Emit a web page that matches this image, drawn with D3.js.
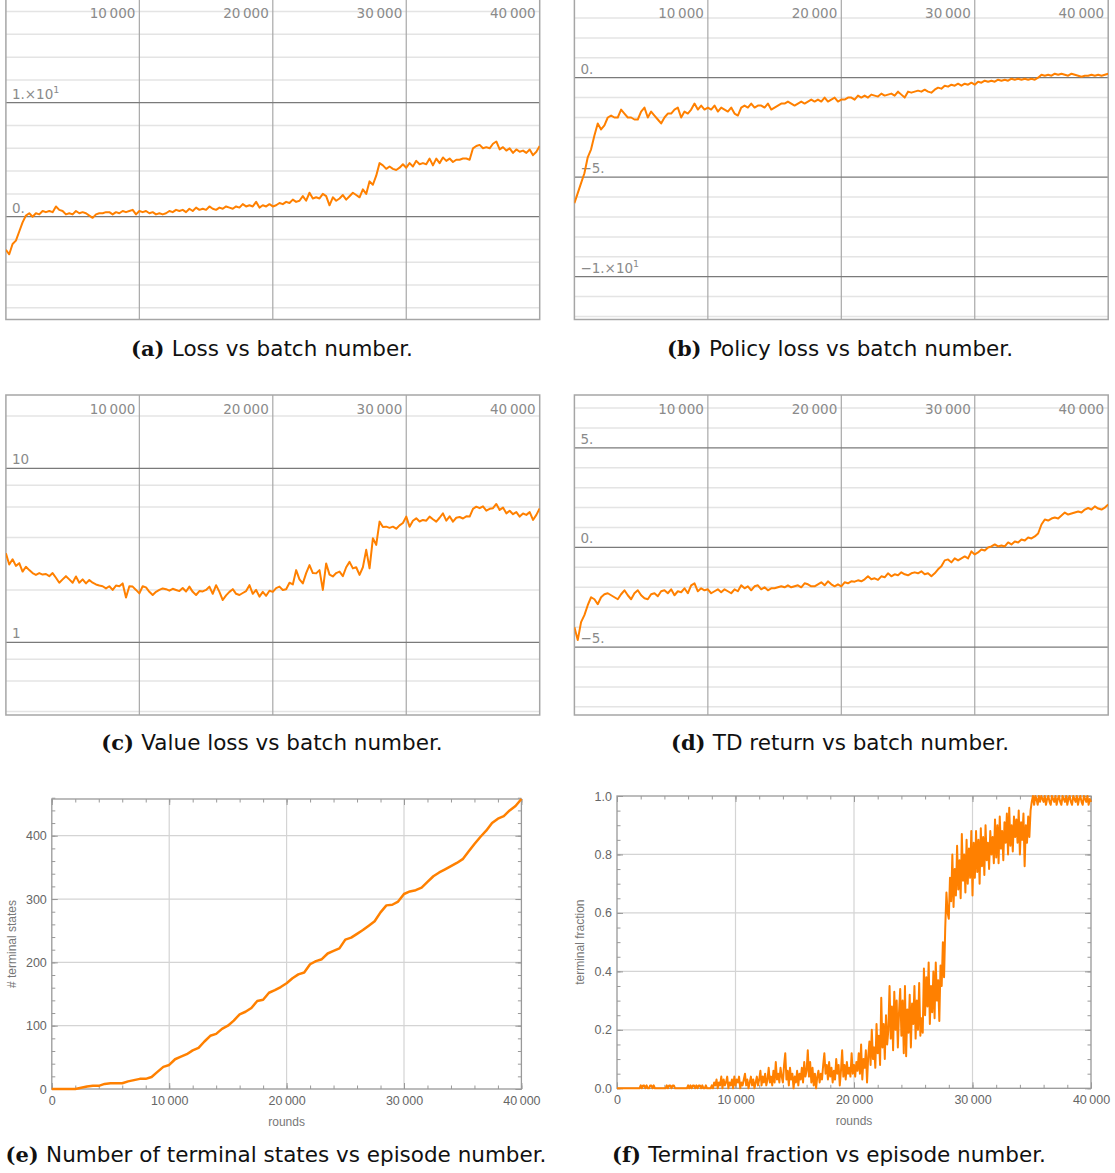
<!DOCTYPE html>
<html>
<head>
<meta charset="utf-8">
<script src="https://cdn.jsdelivr.net/npm/d3@7"></script>
<style>
  body { margin: 0; background: #fff; }
  svg { display: block; }
</style>
</head>
<body>
<svg id="fig" width="1115" height="1173"></svg>
<script>
// ---- data ----

// batch number samples for panels (a)-(d), every 250 batches
const batchNumbers = d3.range(0, 40001, 250);

const lossValues = [
  -2.9, -3.3, -2.4, -2.1, -1.3, -0.5, 0.1, 0.3, 0.0, 0.3,
  0.2, 0.5, 0.4, 0.5, 0.4, 0.9, 0.6, 0.5, 0.2, 0.3,
  0.2, 0.5, 0.3, 0.4, 0.3, 0.1, -0.1, 0.2, 0.3, 0.3,
  0.4, 0.4, 0.2, 0.4, 0.3, 0.5, 0.4, 0.5, 0.6, 0.2,
  0.5, 0.4, 0.5, 0.3, 0.4, 0.2, 0.3, 0.2, 0.3, 0.5,
  0.4, 0.6, 0.5, 0.6, 0.4, 0.7, 0.5, 0.8, 0.6, 0.7,
  0.6, 0.9, 0.7, 0.6, 0.8, 0.7, 0.9, 0.8, 0.7, 0.9,
  0.8, 1.1, 0.9, 1.0, 0.9, 1.3, 0.8, 1.0, 0.9, 1.1,
  0.9, 1.0, 1.2, 1.1, 1.3, 1.2, 1.5, 1.3, 1.4, 1.8,
  1.4, 2.1, 1.6, 1.7, 1.6, 2.0, 1.8, 1.0, 1.7, 1.4,
  1.6, 1.9, 1.5, 1.8, 2.1, 1.9, 1.7, 2.4, 2.0, 3.1,
  2.8, 3.6, 4.7, 4.5, 4.2, 4.4, 4.2, 4.1, 4.3, 4.6,
  4.3, 4.7, 4.4, 4.9, 4.6, 4.7, 4.6, 5.1, 4.5, 5.1,
  4.7, 5.2, 4.9, 5.1, 4.8, 5.0, 5.0, 5.1, 5.1, 5.0,
  6.0, 6.2, 6.3, 6.0, 6.1, 6.0, 6.4, 6.6, 5.9, 6.1,
  5.8, 6.0, 5.6, 5.9, 5.7, 5.8, 5.6, 5.9, 5.4, 5.7,
  6.2
];

const policyLossValues = [
  -6.3, -5.8, -5.3, -4.8, -4.0, -3.6, -2.9, -2.3, -2.6, -2.4,
  -2.0, -1.9, -2.0, -2.0, -1.6, -1.8, -2.0, -2.0, -2.1, -2.1,
  -1.7, -1.5, -2.0, -1.7, -1.9, -2.1, -2.3, -2.0, -1.8, -1.8,
  -1.6, -1.5, -2.0, -1.7, -1.8, -1.6, -1.3, -1.6, -1.4, -1.6,
  -1.5, -1.6, -1.4, -1.7, -1.5, -1.6, -1.7, -1.5, -1.8, -1.9,
  -1.5, -1.4, -1.5, -1.3, -1.5, -1.4, -1.4, -1.5, -1.3, -1.6,
  -1.5, -1.4, -1.3, -1.3, -1.2, -1.3, -1.4, -1.3, -1.2, -1.3,
  -1.2, -1.1, -1.2, -1.1, -1.2, -1.0, -1.2, -1.1, -1.0, -1.2,
  -1.1, -1.1, -1.0, -1.0, -1.1, -0.9, -1.0, -0.9, -1.0, -0.85,
  -0.9, -0.95, -0.8, -0.9, -0.85, -0.8, -0.9, -0.7, -0.85, -1.0,
  -0.7, -0.75, -0.7, -0.65, -0.7, -0.6, -0.7, -0.75, -0.6, -0.5,
  -0.55, -0.4, -0.45, -0.35, -0.4, -0.3, -0.4, -0.3, -0.35, -0.25,
  -0.35, -0.2, -0.25, -0.15, -0.2, -0.15, -0.2, -0.1, -0.15, -0.1,
  -0.15, -0.05, -0.1, -0.05, -0.1, -0.05, -0.1, -0.05, -0.1, 0.0,
  0.15, 0.1, 0.15, 0.1, 0.2, 0.15, 0.2, 0.15, 0.1, 0.2,
  0.15, 0.1, 0.05, 0.1, 0.1, 0.15, 0.1, 0.15, 0.1, 0.15,
  0.2
];

const valueLossValues = [
  3.25, 2.8, 3.0, 2.75, 2.85, 2.55, 2.72, 2.6, 2.5, 2.44,
  2.5, 2.45, 2.47, 2.4, 2.5, 2.35, 2.2, 2.3, 2.4, 2.3,
  2.2, 2.39, 2.2, 2.3, 2.18, 2.28, 2.2, 2.15, 2.12, 2.1,
  2.04, 2.1, 2.0, 2.12, 2.1, 2.18, 1.81, 2.1, 2.09, 2.0,
  1.91, 2.1, 2.07, 1.95, 1.87, 1.95, 2.0, 2.04, 2.02, 1.98,
  2.03, 2.0, 1.97, 2.05, 1.96, 2.09, 1.95, 1.87, 1.97, 1.96,
  2.0, 2.09, 1.9, 2.13, 1.95, 1.75, 1.86, 1.95, 2.02, 1.9,
  1.87, 1.92, 1.97, 2.13, 1.9, 2.0, 1.83, 1.95, 1.85, 1.98,
  1.95, 2.05, 2.09, 2.0, 2.02, 2.2, 2.15, 2.6, 2.3, 2.18,
  2.5, 2.78, 2.5, 2.49, 2.6, 2.0, 2.84, 2.45, 2.39, 2.5,
  2.55, 2.4, 2.7, 2.9, 2.66, 2.7, 2.44, 2.7, 3.4, 2.66,
  3.96, 3.63, 4.94, 4.6, 4.62, 4.55, 4.62, 4.5, 4.7, 4.85,
  5.28, 4.62, 5.0, 5.16, 4.95, 5.05, 5.0, 5.28, 5.1, 4.94,
  5.2, 5.51, 5.0, 5.3, 4.94, 5.2, 5.25, 5.15, 5.3, 5.28,
  5.85, 6.02, 5.9, 6.05, 5.71, 5.85, 5.9, 6.24, 5.77, 5.95,
  5.51, 5.7, 5.45, 5.6, 5.28, 5.5, 5.4, 5.6, 5.05, 5.4,
  5.89
];

const tdReturnValues = [
  -4.0, -4.65, -3.75, -3.4, -2.9, -2.5, -2.6, -2.85, -2.5, -2.35,
  -2.3, -2.4, -2.5, -2.6, -2.35, -2.15, -2.4, -2.6, -2.3, -2.15,
  -2.4, -2.55, -2.6, -2.35, -2.3, -2.45, -2.2, -2.15, -2.3, -2.1,
  -2.4, -2.2, -2.25, -2.05, -2.3, -1.9, -1.8, -2.2, -2.05, -2.15,
  -2.1, -2.3, -2.2, -2.1, -2.25, -2.1, -2.2, -2.3, -2.1, -2.2,
  -1.9, -2.05, -1.95, -2.15, -1.95, -1.9, -2.1, -2.0, -2.15, -2.05,
  -2.05, -2.0, -1.95, -2.0, -1.9, -2.0, -1.95, -1.9, -2.0, -1.8,
  -1.85, -1.95, -1.95, -1.85, -1.75, -1.9, -1.7, -1.85, -1.95, -1.85,
  -1.95, -1.75, -1.8, -1.7, -1.72, -1.65, -1.7, -1.6, -1.45, -1.6,
  -1.55, -1.63, -1.45, -1.5, -1.3, -1.45, -1.35, -1.4, -1.25, -1.35,
  -1.4, -1.3, -1.25, -1.3, -1.2, -1.35, -1.3, -1.45, -1.3, -1.1,
  -0.95, -0.65, -0.6, -0.75, -0.55, -0.65, -0.55, -0.45, -0.55, -0.2,
  -0.35, -0.25, -0.1, -0.15, 0.0, 0.05, 0.15, 0.05, 0.1, 0.05,
  0.25, 0.15, 0.3, 0.25, 0.4, 0.35, 0.5, 0.45, 0.55, 0.7,
  1.15, 1.4, 1.35, 1.45, 1.5, 1.45, 1.6, 1.75, 1.65, 1.7,
  1.75, 1.8, 1.75, 1.9, 1.98, 1.9, 2.06, 1.95, 1.9, 2.0,
  2.15
];

// panel (e): cumulative terminal states, every 500 rounds
const countRounds = d3.range(0, 40001, 500);
const terminalCounts = [
  0, 0, 0, 0, 0, 2, 4, 5, 5, 8,
  9, 9, 9, 12, 14, 16, 16, 19, 27, 35,
  38, 47, 51, 55, 61, 65, 75, 84, 87, 95,
  100, 108, 118, 122, 128, 139, 141, 152, 156, 161,
  167, 175, 181, 184, 197, 202, 205, 214, 218, 222,
  236, 239, 245, 251, 258, 265, 279, 290, 291, 296,
  308, 312, 314, 318, 327, 336, 342, 347, 352, 357,
  363, 375, 387, 398, 408, 420, 427, 431, 440, 447,
  458
];

// panel (f): terminal fraction, every 100 rounds
const fractionRounds = d3.range(0, 40001, 100);
const terminalFractions = [
  0, 0, 0, 0, 0, 0, 0, 0, 0, 0, 0, 0, 0, 0, 0, 0, 0, 0, 0, 0,
  0.01, 0, 0.01, 0.01, 0, 0.01, 0, 0, 0.01, 0.01, 0, 0.01, 0, 0, 0, 0, 0, 0, 0, 0,
  0, 0, 0.01, 0, 0.01, 0.01, 0, 0.01, 0.01, 0, 0, 0, 0, 0, 0, 0, 0, 0, 0, 0,
  0.01, 0, 0.01, 0, 0.01, 0.01, 0, 0.01, 0, 0.01, 0.01, 0, 0.01, 0, 0, 0.01, 0, 0, 0, 0,
  0.01, 0, 0.02, 0.01, 0.03, 0, 0.02, 0.01, 0.04, 0, 0.03, 0.01, 0.02, 0.04, 0, 0.02, 0.01, 0.03, 0, 0.04,
  0.01, 0.03, 0.02, 0.04, 0, 0.02, 0.01, 0.03, 0.05, 0.01, 0.03, 0, 0.02, 0.04, 0.01, 0.03, 0, 0.02, 0.04, 0.01,
  0.03, 0.06, 0.01, 0.04, 0.02, 0.05, 0.01, 0.03, 0.07, 0.02, 0.04, 0.01, 0.06, 0.02, 0.09, 0.03, 0.05, 0.02, 0.07, 0.04,
  0.02, 0.08, 0.12, 0.03, 0.06, 0.01, 0.07, 0.03, 0.05, 0, 0.04, 0.02, 0.06, 0.01, 0.05, 0.03, 0.07, 0.02, 0.09, 0.04,
  0.06, 0.13, 0.04, 0.09, 0.02, 0.07, 0.01, 0.05, 0, 0.04, 0.06, 0.02, 0.05, 0.03, 0.08, 0.12, 0.05, 0.08, 0.03, 0.09,
  0.04, 0.07, 0.02, 0.06, 0.03, 0.1, 0.05, 0.08, 0.01, 0.06, 0.13, 0.04, 0.08, 0.03, 0.09, 0.05, 0.07, 0.04, 0.12, 0.05,
  0.08, 0.04, 0.09, 0.06, 0.12, 0.05, 0.15, 0.03, 0.1, 0.07, 0.13, 0.02, 0.11, 0.16, 0.08, 0.2, 0.1, 0.14, 0.07, 0.22,
  0.12, 0.18, 0.08, 0.31, 0.14, 0.22, 0.1, 0.25, 0.15, 0.2, 0.35, 0.17, 0.28, 0.13, 0.33, 0.2, 0.3, 0.14, 0.26, 0.34,
  0.18, 0.3, 0.12, 0.35, 0.11, 0.27, 0.19, 0.32, 0.14, 0.29, 0.22, 0.35, 0.17, 0.3, 0.2, 0.36, 0.18, 0.24, 0.19, 0.41,
  0.25, 0.38, 0.28, 0.43, 0.22, 0.35, 0.26, 0.4, 0.24, 0.43, 0.3, 0.37, 0.23, 0.42, 0.35, 0.5, 0.38, 0.55, 0.67, 0.6,
  0.58, 0.72, 0.64, 0.8, 0.62, 0.75, 0.66, 0.83, 0.68, 0.78, 0.65, 0.87, 0.71, 0.8, 0.67, 0.85, 0.7, 0.82, 0.72, 0.88,
  0.66, 0.84, 0.72, 0.88, 0.74, 0.85, 0.7, 0.89, 0.76, 0.86, 0.73, 0.9, 0.78, 0.84, 0.75, 0.88, 0.8, 0.86, 0.77, 0.92,
  0.79, 0.9, 0.77, 0.93, 0.82, 0.88, 0.78, 0.91, 0.84, 0.94, 0.8, 0.96, 0.83, 0.9, 0.81, 0.93, 0.86, 0.92, 0.84, 0.95,
  0.8, 0.91, 0.85, 0.94, 0.76, 0.9, 0.84, 0.93, 0.86, 0.95, 0.98, 1.0, 0.97, 1.0, 0.99, 0.97, 1.0, 0.98, 1.0, 0.99,
  0.98, 1.0, 0.97, 0.99, 1.0, 0.98, 0.97, 1.0, 0.99, 0.98, 1.0, 0.97, 0.99, 1.0, 0.98, 0.97, 1.0, 0.99, 0.98, 1.0,
  0.97, 0.99, 1.0, 0.98, 0.97, 1.0, 0.99, 0.98, 1.0, 0.97, 0.99, 1.0, 0.98, 0.97, 1.0, 0.99, 0.98, 1.0, 0.97, 0.99,
  0.98
];

// ticks and labels
const batchTicks = [10000, 20000, 30000, 40000];

const lossMajorTicks = [0, 10];
const lossTickLabels = ['0.', '1.\u00d710^1'];
const lossMinorTicks = [-8, -6, -4, -2, 2, 4, 6, 8, 12, 14, 16, 18];

const policyMajorTicks = [-10, -5, 0];
const policyTickLabels = ['\u22121.\u00d710^1', '\u22125.', '0.'];
const policyMinorTicks = [-12, -11, -9, -8, -7, -6, -4, -3, -2, -1, 1, 2, 3];

const valueMajorTicks = [1, 10];
const valueTickLabels = ['1', '10'];
const valueMinorTicks = [0.4, 0.6, 0.8, 2, 4, 6, 8, 20];

const tdMajorTicks = [-5, 0, 5];
const tdTickLabels = ['\u22125.', '0.', '5.'];
const tdMinorTicks = [-8, -7, -6, -4, -3, -2, -1, 1, 2, 3, 4, 6, 7];

const roundsMajorTicks = [0, 10000, 20000, 30000, 40000];
const roundsMinorTicks = d3.range(0, 40001, 2000);
const countMajorTicks = [0, 100, 200, 300, 400];
const countMinorTicks = d3.range(0, 461, 20);
const fractionMajorTicks = [0, 0.2, 0.4, 0.6, 0.8, 1.0];
const fractionMinorTicks = d3.range(0, 1.001, 0.05);

const captionTags = ['(a)', '(b)', '(c)', '(d)', '(e)', '(f)'];
const captionTexts = [
  'Loss vs batch number.',
  'Policy loss vs batch number.',
  'Value loss vs batch number.',
  'TD return vs batch number.',
  'Number of terminal states vs episode number.',
  'Terminal fraction vs episode number.'
];

// ---- drawing ----
const svg = d3.select('#fig');
const ORANGE = '#ff8000';
const thinSpaced = d => d3.format(',')(d).replace(',', '\u2009');

//Writes "mantissa^exp" labels with a raised exponent
function putLabel(sel, str) {
  const parts = str.split('^');
  sel.append('tspan').text(parts[0]);
  if (parts.length > 1) {
    sel.append('tspan').attr('font-size', 9.5).attr('dy', -6).text(parts[1]);
  }
}

function batchPanel(p) {
  const g = svg.append('g');
  const x = d3.scaleLinear().domain([0, 40000]).range([p.x0, p.x1]);
  const y = (p.log ? d3.scaleLog() : d3.scaleLinear()).domain(p.domain).range([p.y1, p.y0]);

  svg.append('clipPath').attr('id', 'clip-' + p.id)
    .append('rect')
    .attr('x', p.x0).attr('y', p.y0)
    .attr('width', p.x1 - p.x0).attr('height', p.y1 - p.y0);

  g.selectAll('.minor').data(p.minor).join('line')
    .attr('x1', p.x0).attr('x2', p.x1)
    .attr('y1', d => y(d)).attr('y2', d => y(d))
    .attr('stroke', '#e4e4e4').attr('stroke-width', 1.5);

  g.selectAll('.vgrid').data(batchTicks.slice(0, 3)).join('line')
    .attr('x1', d => x(d)).attr('x2', d => x(d))
    .attr('y1', p.y0).attr('y2', p.y1)
    .attr('stroke', '#a8a8a8').attr('stroke-width', 1.2);

  g.selectAll('.major').data(p.major).join('line')
    .attr('x1', p.x0).attr('x2', p.x1)
    .attr('y1', d => y(d)).attr('y2', d => y(d))
    .attr('stroke', '#7a7a7a').attr('stroke-width', 1.3);

  g.append('rect')
    .attr('x', p.x0).attr('y', p.y0)
    .attr('width', p.x1 - p.x0).attr('height', p.y1 - p.y0)
    .attr('fill', 'none').attr('stroke', '#a6a6a6').attr('stroke-width', 1.5);

  g.selectAll('.xlab').data(batchTicks).join('text')
    .attr('x', d => x(d) - 4).attr('y', p.y0 + 18.5)
    .attr('text-anchor', 'end')
    .attr('font-family', 'DejaVu Sans').attr('font-size', 13.5)
    .attr('fill', '#8a8a8a')
    .text(thinSpaced);

  p.major.forEach((v, i) => {
    const t = g.append('text')
      .attr('x', p.x0 + 6).attr('y', y(v) - 4)
      .attr('font-family', 'DejaVu Sans').attr('font-size', 13.5)
      .attr('fill', '#8a8a8a');
    putLabel(t, p.labels[i]);
  });

  g.append('path')
    .datum(p.values)
    .attr('clip-path', 'url(#clip-' + p.id + ')')
    .attr('fill', 'none').attr('stroke', ORANGE).attr('stroke-width', 2)
    .attr('stroke-linejoin', 'round')
    .attr('d', d3.line().x((d, i) => x(batchNumbers[i])).y(d => y(d)));
}

batchPanel({id: 'a', values: lossValues, x0: 5.9, x1: 539.7, y0: -1, y1: 319.5,
  domain: [-9.02, 19.1], major: lossMajorTicks, labels: lossTickLabels, minor: lossMinorTicks});
batchPanel({id: 'b', values: policyLossValues, x0: 574.4, x1: 1108.2, y0: -1, y1: 319.5,
  domain: [-12.15, 3.955], major: policyMajorTicks, labels: policyTickLabels, minor: policyMinorTicks});
batchPanel({id: 'c', log: true, values: valueLossValues, x0: 5.9, x1: 539.7, y0: 395, y1: 715,
  domain: [0.382, 26.4], major: valueMajorTicks, labels: valueTickLabels, minor: valueMinorTicks});
batchPanel({id: 'd', values: tdReturnValues, x0: 574.4, x1: 1108.2, y0: 395, y1: 715,
  domain: [-8.41, 7.65], major: tdMajorTicks, labels: tdTickLabels, minor: tdMinorTicks});

//Mathematica-style framed plot, ticks pointing inward on all four sides
function framedPanel(p) {
  const g = svg.append('g');
  const x = d3.scaleLinear().domain([0, 40000]).range([p.x0, p.x1]);
  const y = d3.scaleLinear().domain([0, p.yMax]).range([p.y1, p.y0]);

  g.selectAll('.vgrid').data(roundsMajorTicks.slice(1, 4)).join('line')
    .attr('x1', d => x(d)).attr('x2', d => x(d))
    .attr('y1', p.y0).attr('y2', p.y1)
    .attr('stroke', '#d4d4d4').attr('stroke-width', 1.2);
  g.selectAll('.hgrid').data(p.yGrid).join('line')
    .attr('x1', p.x0).attr('x2', p.x1)
    .attr('y1', d => y(d)).attr('y2', d => y(d))
    .attr('stroke', '#d4d4d4').attr('stroke-width', 1.2);

  const axes = [
    [d3.axisBottom(x), 'translate(0,' + p.y1 + ')', roundsMajorTicks, roundsMinorTicks, thinSpaced, 7],
    [d3.axisTop(x), 'translate(0,' + p.y0 + ')', roundsMajorTicks, roundsMinorTicks, null, 0],
    [d3.axisLeft(y), 'translate(' + p.x0 + ',0)', p.yMajor, p.yMinor, p.yFormat, 5],
    [d3.axisRight(y), 'translate(' + p.x1 + ',0)', p.yMajor, p.yMinor, null, 0]
  ];
  axes.forEach(([axis, tr, major, minor, fmt, pad]) => {
    const gm = g.append('g').attr('transform', tr)
      .call(axis.tickValues(minor).tickSize(-3.5).tickFormat(''));
    gm.select('.domain').remove();
    gm.selectAll('line').attr('stroke', '#999');
    const gM = g.append('g').attr('transform', tr)
      .call(axis.tickValues(major).tickSize(-6).tickPadding(pad)
        .tickFormat(fmt || (() => '')));
    gM.select('.domain').remove();
    gM.selectAll('line').attr('stroke', '#999');
    gM.selectAll('text')
      .attr('font-family', 'Liberation Sans').attr('font-size', 12.5)
      .attr('fill', '#666');
  });

  g.append('rect')
    .attr('x', p.x0).attr('y', p.y0)
    .attr('width', p.x1 - p.x0).attr('height', p.y1 - p.y0)
    .attr('fill', 'none').attr('stroke', '#999').attr('stroke-width', 1.3);

  g.append('path')
    .datum(p.values)
    .attr('fill', 'none').attr('stroke', ORANGE).attr('stroke-width', p.lineWidth)
    .attr('stroke-linejoin', 'round')
    .attr('d', d3.line().x((d, i) => x(p.rounds[i])).y(d => y(d)));

  g.append('text')
    .attr('x', (p.x0 + p.x1) / 2).attr('y', p.y1 + 37)
    .attr('text-anchor', 'middle')
    .attr('font-family', 'Liberation Sans').attr('font-size', 12)
    .attr('fill', '#777').text('rounds');
  g.append('text')
    .attr('transform', 'translate(' + p.yLabelX + ',' + (p.y0 + p.y1) / 2 + ') rotate(-90)')
    .attr('text-anchor', 'middle')
    .attr('font-family', 'Liberation Sans').attr('font-size', 12)
    .attr('fill', '#777').text(p.yLabel);
}

framedPanel({x0: 51.8, x1: 521.4, y0: 799, y1: 1089, yMax: d3.max(terminalCounts),
  values: terminalCounts, rounds: countRounds, lineWidth: 2.5,
  yGrid: countMajorTicks.slice(1), yMajor: countMajorTicks, yMinor: countMinorTicks,
  yFormat: d3.format('d'), yLabel: '# terminal states', yLabelX: 16});
framedPanel({x0: 617, x1: 1091, y0: 796, y1: 1088.3, yMax: 1,
  values: terminalFractions, rounds: fractionRounds, lineWidth: 2,
  yGrid: fractionMajorTicks.slice(1, 5), yMajor: fractionMajorTicks, yMinor: fractionMinorTicks,
  yFormat: d3.format('.1f'), yLabel: 'terminal fraction', yLabelX: 584});

// captions
const captionPos = [[272, 356], [840, 356], [272, 750], [840, 750], [276, 1162], [829, 1162]];
captionTags.forEach((tag, i) => {
  const t = svg.append('text')
    .attr('x', captionPos[i][0]).attr('y', captionPos[i][1])
    .attr('text-anchor', 'middle').attr('fill', '#111');
  t.append('tspan')
    .attr('font-family', 'DejaVu Serif').attr('font-weight', 'bold').attr('font-size', 21)
    .text(tag + ' ');
  t.append('tspan')
    .attr('font-family', 'DejaVu Sans').attr('font-size', 21.5)
    .text(captionTexts[i]);
});
</script>
</body>
</html>
